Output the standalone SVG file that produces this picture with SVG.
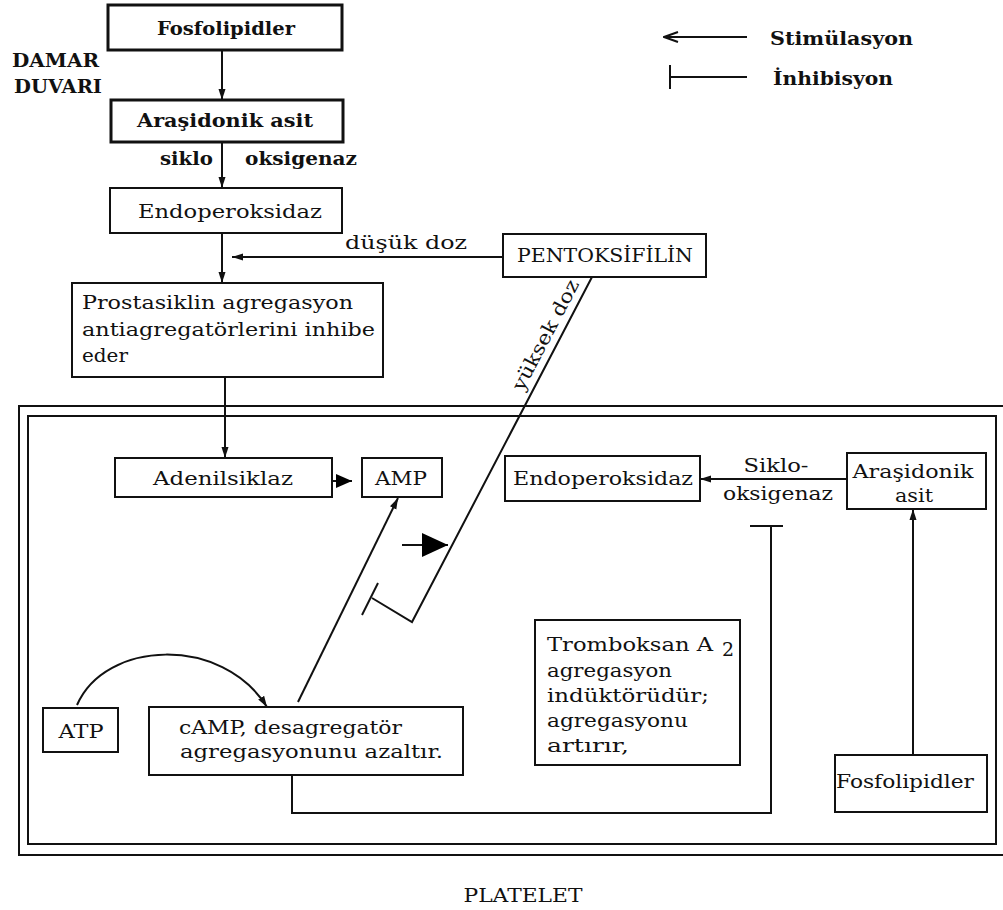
<svg xmlns="http://www.w3.org/2000/svg" width="1003" height="910" viewBox="0 0 1003 910">
<style>
text{font-family:"DejaVu Serif","Liberation Serif",serif;fill:#111;font-size:19px}
.b{font-weight:bold}
.box{fill:#fff;stroke:#111;stroke-width:2}
.bold{fill:#fff;stroke:#111;stroke-width:3}
.ln{fill:none;stroke:#111;stroke-width:2}
.c{text-anchor:middle}
</style>
<defs>
<marker id="ah" markerWidth="12" markerHeight="10" refX="11" refY="5" orient="auto" markerUnits="userSpaceOnUse">
<path d="M0,1.5 L11,5 L0,8.5 Z" fill="#111"/>
</marker>
<marker id="big" markerWidth="26" markerHeight="26" refX="26" refY="13" orient="auto" markerUnits="userSpaceOnUse">
<path d="M0,1 L26,13 L0,25 Z" fill="#000"/>
</marker>
<marker id="mid" markerWidth="16" markerHeight="16" refX="16" refY="8" orient="auto" markerUnits="userSpaceOnUse">
<path d="M0,1 L16,8 L0,15 Z" fill="#000"/>
</marker>
<marker id="open" markerWidth="16" markerHeight="12" refX="15" refY="6" orient="auto" markerUnits="userSpaceOnUse">
<path d="M1,1 L15,6 L1,11" fill="none" stroke="#111" stroke-width="2"/>
</marker>
</defs>
<rect width="1003" height="910" fill="#fff"/>

<g id="frame">
<path class="ln" d="M1003,406 H19 V855 H1003"/>
<rect x="28" y="416" width="968" height="428" fill="none" stroke="#111" stroke-width="2"/>
<text x="523" y="902" class="c" textLength="119" lengthAdjust="spacingAndGlyphs" font-size="18">PLATELET</text>
</g>

<g id="legend">
<line class="ln" x1="747" y1="37" x2="664" y2="37" marker-end="url(#open)"/>
<text x="770" y="45" class="b" textLength="143" lengthAdjust="spacingAndGlyphs">Stimülasyon</text>
<line class="ln" x1="670" y1="77" x2="747" y2="77"/>
<line class="ln" x1="670" y1="65" x2="670" y2="89"/>
<text x="773" y="85" class="b" textLength="120" lengthAdjust="spacingAndGlyphs">İnhibisyon</text>
</g>

<g id="damar-duvari">
<text x="12" y="67" class="b" font-size="16" textLength="87" lengthAdjust="spacingAndGlyphs">DAMAR</text>
<text x="14" y="93" class="b" font-size="16" textLength="88" lengthAdjust="spacingAndGlyphs">DUVARI</text>
</g>

<g id="connectors">
<line class="ln" x1="222" y1="50" x2="222" y2="100" marker-end="url(#ah)"/>
<line class="ln" x1="222" y1="142" x2="222" y2="188" marker-end="url(#ah)"/>
<line class="ln" x1="222" y1="233" x2="222" y2="283" marker-end="url(#ah)"/>
<line class="ln" x1="503" y1="257" x2="232" y2="257" marker-end="url(#ah)"/>
<line class="ln" x1="225" y1="377" x2="225" y2="458" marker-end="url(#ah)"/>
<line class="ln" x1="328" y1="481" x2="352" y2="481" marker-end="url(#mid)"/>
<line class="ln" x1="298" y1="702" x2="398" y2="498" marker-end="url(#ah)"/>
<polyline class="ln" points="592,277 412,622 372,598"/>
<line class="ln" x1="378" y1="583" x2="362" y2="615"/>
<line class="ln" x1="402" y1="545" x2="448" y2="545" stroke-width="3" marker-end="url(#big)"/>
<line class="ln" x1="847" y1="479" x2="700" y2="479" marker-end="url(#ah)"/>
<line class="ln" x1="913" y1="755" x2="913" y2="509" marker-end="url(#ah)"/>
<path class="ln" d="M292,775 V813 H771 V526"/>
<line class="ln" x1="750" y1="526" x2="783" y2="526"/>
<path class="ln" d="M77,705 C105,640 222,635 267,707" marker-end="url(#ah)"/>
<text x="160" y="165" class="b" textLength="53" lengthAdjust="spacingAndGlyphs">siklo</text>
<text x="245" y="165" class="b" textLength="112" lengthAdjust="spacingAndGlyphs">oksigenaz</text>
<text x="345" y="249" textLength="122" lengthAdjust="spacingAndGlyphs">düşük doz</text>
<text transform="translate(523,392) rotate(-62.4)" textLength="122" lengthAdjust="spacingAndGlyphs">yüksek doz</text>
<text x="776" y="472" class="c" textLength="65" lengthAdjust="spacingAndGlyphs">Siklo-</text>
<text x="778" y="500" class="c" textLength="110" lengthAdjust="spacingAndGlyphs">oksigenaz</text>
</g>

<g id="fosfolipidler-top">
<rect class="bold" x="108" y="5" width="234" height="45"/>
<text x="226" y="35" class="c b" textLength="138" lengthAdjust="spacingAndGlyphs">Fosfolipidler</text>
</g>

<g id="arasidonik-top">
<rect class="bold" x="111" y="100" width="232" height="42"/>
<text x="225" y="127" class="c b" textLength="176" lengthAdjust="spacingAndGlyphs">Araşidonik asit</text>
</g>

<g id="endoperoksidaz-top">
<rect class="box" x="110" y="188" width="232" height="45"/>
<text x="230" y="218" class="c" textLength="184" lengthAdjust="spacingAndGlyphs">Endoperoksidaz</text>
</g>

<g id="pentoksifilin">
<rect class="box" x="503" y="234" width="203" height="43"/>
<text x="605" y="262" class="c" font-size="17" textLength="176" lengthAdjust="spacingAndGlyphs">PENTOKSİFİLİN</text>
</g>

<g id="prostasiklin">
<rect class="box" x="72" y="283" width="311" height="94"/>
<text x="82" y="309" textLength="271" lengthAdjust="spacingAndGlyphs">Prostasiklin agregasyon</text>
<text x="82" y="336" textLength="293" lengthAdjust="spacingAndGlyphs">antiagregatörlerini inhibe</text>
<text x="82" y="362" textLength="46" lengthAdjust="spacingAndGlyphs">eder</text>
</g>

<g id="adenilsiklaz">
<rect class="box" x="115" y="458" width="217" height="39"/>
<text x="223" y="485" class="c" textLength="140" lengthAdjust="spacingAndGlyphs">Adenilsiklaz</text>
</g>

<g id="amp">
<rect class="box" x="362" y="458" width="80" height="39"/>
<text x="401" y="485" class="c" textLength="52" lengthAdjust="spacingAndGlyphs">AMP</text>
</g>

<g id="endoperoksidaz-platelet">
<rect class="box" x="505" y="456" width="195" height="45"/>
<text x="603" y="485" class="c" textLength="180" lengthAdjust="spacingAndGlyphs">Endoperoksidaz</text>
</g>

<g id="arasidonik-platelet">
<rect class="box" x="847" y="453" width="139" height="56"/>
<text x="913" y="478" class="c" textLength="121" lengthAdjust="spacingAndGlyphs">Araşidonik</text>
<text x="914" y="502" class="c" textLength="38" lengthAdjust="spacingAndGlyphs">asit</text>
</g>

<g id="tromboksan">
<rect class="box" x="535" y="620" width="205" height="145"/>
<text x="547" y="651" textLength="166" lengthAdjust="spacingAndGlyphs">Tromboksan A</text>
<text x="722" y="656" font-size="17">2</text>
<text x="547" y="677" textLength="125" lengthAdjust="spacingAndGlyphs">agregasyon</text>
<text x="547" y="702" textLength="162" lengthAdjust="spacingAndGlyphs">indüktörüdür;</text>
<text x="547" y="727" textLength="141" lengthAdjust="spacingAndGlyphs">agregasyonu</text>
<text x="547" y="752" textLength="82" lengthAdjust="spacingAndGlyphs">artırır,</text>
</g>

<g id="atp">
<rect class="box" x="43" y="708" width="75" height="44"/>
<text x="81" y="738" class="c" textLength="45" lengthAdjust="spacingAndGlyphs">ATP</text>
</g>

<g id="camp">
<rect class="box" x="149" y="707" width="314" height="68"/>
<text x="179" y="734" textLength="223" lengthAdjust="spacingAndGlyphs">cAMP, desagregatör</text>
<text x="180" y="758" textLength="263" lengthAdjust="spacingAndGlyphs">agregasyonunu azaltır.</text>
</g>

<g id="fosfolipidler-platelet">
<rect class="box" x="835" y="755" width="152" height="57"/>
<text x="905" y="788" class="c" textLength="138" lengthAdjust="spacingAndGlyphs">Fosfolipidler</text>
</g>
</svg>
